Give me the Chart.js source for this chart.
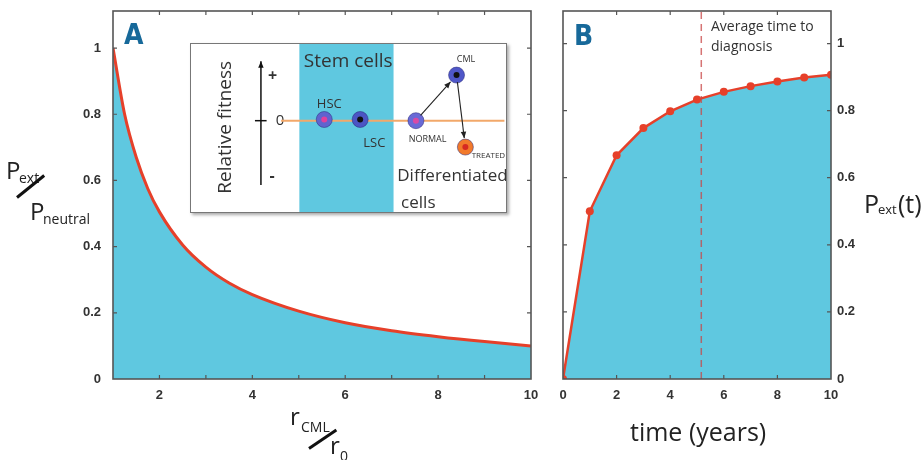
<!DOCTYPE html>
<html>
<head>
<meta charset="utf-8">
<script src="https://cdn.jsdelivr.net/npm/chart.js@4.4.0/dist/chart.umd.min.js"></script>
<style>
  html, body { margin: 0; padding: 0; background: #fff; }
  #wrap { position: relative; width: 923px; height: 460px; overflow: hidden; font-family: "Open Sans", sans-serif; color: #222; }
  canvas { position: absolute; }
  .t { position: absolute; line-height: 1; white-space: nowrap; }
  .slash { position: absolute; height: 3px; background: #111; transform-origin: 0 50%; }
  .panel { position: absolute; font-family: "Liberation Sans Narrow", "DejaVu Sans Condensed", sans-serif; font-weight: bold; font-size: 28px; color: #17699a; line-height: 1; }
  #inset { position: absolute; left: 190px; top: 43px; width: 315px; height: 168px; border: 1.5px solid #777; box-shadow: 2px 2px 3px #aaa; background: #fff; overflow: hidden; }
  #inset canvas { left: 0; top: 0; }
</style>
</head>
<body>
<div id="wrap">
  <canvas id="chartA" width="548" height="460" style="left:0;top:0;width:548px;height:460px"></canvas>
  <canvas id="chartB" width="383" height="460" style="left:540px;top:0;width:383px;height:460px"></canvas>
  <div id="inset"><canvas id="insetChart" width="315" height="168" style="width:315px;height:168px"></canvas></div>

  <div class="panel" style="left:124px;top:21px">A</div>
  <div class="panel" style="left:574px;top:22px">B</div>

  <!-- y title of panel A -->
  <div class="t" style="left:6px;top:158px;font-size:24px">P</div>
  <div class="t" style="left:19px;top:171px;font-size:14px">ext</div>
  <div class="slash" style="left:17px;top:196px;width:35px;transform:rotate(-39deg)"></div>
  <div class="t" style="left:30px;top:199px;font-size:24px">P</div>
  <div class="t" style="left:43px;top:212px;font-size:14px">neutral</div>

  <!-- x title of panel A -->
  <div class="t" style="left:290px;top:404px;font-size:24px">r</div>
  <div class="t" style="left:301px;top:420px;font-size:14px">CML</div>
  <div class="slash" style="left:309px;top:447px;width:33px;transform:rotate(-34deg)"></div>
  <div class="t" style="left:330px;top:433px;font-size:24px">r</div>
  <div class="t" style="left:340px;top:449px;font-size:14px">0</div>

  <!-- titles of panel B -->
  <div class="t" style="left:630px;top:419px;font-size:25px">time (years)</div>
  <div class="t" style="left:864px;top:191px;font-size:25px">P</div>
  <div class="t" style="left:878px;top:203px;font-size:13px">ext</div>
  <div class="t" style="left:898px;top:191px;font-size:25px">(t)</div>
  <div class="t" style="left:711px;top:19px;font-size:14px;color:#333">Average time to</div>
  <div class="t" style="left:711px;top:39px;font-size:14px;color:#333">diagnosis</div>
</div>

<script>
// Panel A: relative extinction probability vs r_CML / r_0
const rRatio = [1, 1.25, 1.5, 1.75, 2, 2.5, 3, 3.5, 4, 5, 6, 7, 8, 9, 10];
const pRatio = [1.0, 0.8, 0.67, 0.575, 0.505, 0.405, 0.338, 0.29, 0.255, 0.205, 0.17, 0.146, 0.128, 0.113, 0.1];

// Panel B: extinction probability over time
const years = [0, 1, 2, 3, 4, 5, 6, 7, 8, 9, 10];
const pExt = [0, 0.5, 0.667, 0.748, 0.798, 0.833, 0.856, 0.873, 0.887, 0.899, 0.907];
const diagnosisTime = 5.16;

// tick labels
const xTicksA = [2, 4, 6, 8, 10];
const xMarksA = [2, 3, 4, 5, 6, 7, 8, 9];
const xTicksB = [0, 2, 4, 6, 8, 10];
const xMarksB = [2, 4, 6, 8];
const yTicks = [0, 0.2, 0.4, 0.6, 0.8, 1];
const yMarks = [0.2, 0.4, 0.6, 0.8, 1];

// inset diagram: cells on a relative-fitness axis
const cellNames = ['HSC', 'LSC', 'NORMAL', 'CML', 'TREATED'];
const cellPos = [4.23, 5.37, 7.14, 8.43, 8.71];
const cellFitness = [0.02, 0.02, 0, 0.76, -0.44];
const cellOuter = ['#5f63cf', '#4b55c4', '#6a6ad6', '#4f57c8', '#f27a2c'];
const cellInner = ['#e0409c', '#111', '#d84aa6', '#111', '#d62a22'];
const stemBand = [3.44, 6.43];
const baseline = [2.86, 9.95];
const cellArrows = [[2, 3], [3, 4]];

const FILL = '#5fc8e0';
const RED = '#e6402a';
const tickFont = { family: '"Liberation Sans", Arial, sans-serif', size: 13, weight: 'bold' };

// box around the plot with inward tick marks
const framePlugin = {
  id: 'frame',
  afterDatasetsDraw(chart, args, opts) {
    const { ctx, chartArea: a, scales } = chart;
    ctx.save();
    ctx.strokeStyle = '#555';
    ctx.lineWidth = 1.2;
    ctx.beginPath();
    (opts.xMarks || []).forEach(v => {
      const px = scales.x.getPixelForValue(v);
      ctx.moveTo(px, a.bottom); ctx.lineTo(px, a.bottom - 4);
      ctx.moveTo(px, a.top); ctx.lineTo(px, a.top + 4);
    });
    (opts.yMarks || []).forEach(v => {
      const py = scales.y.getPixelForValue(v);
      ctx.moveTo(a.left, py); ctx.lineTo(a.left + 4, py);
      ctx.moveTo(a.right, py); ctx.lineTo(a.right - 4, py);
    });
    ctx.stroke();
    ctx.lineWidth = 1.6;
    ctx.strokeRect(a.left, a.top, a.right - a.left, a.bottom - a.top);
    ctx.restore();
  }
};

function axes(xMin, xMax, xTicks, yMax, yPos, yWidth) {
  return {
    x: {
      type: 'linear', min: xMin, max: xMax,
      grid: { display: false, drawTicks: false }, border: { display: false },
      afterBuildTicks: s => { s.ticks = xTicks.map(v => ({ value: v })); },
      afterFit: s => { s.height = 81; s.paddingLeft = 0; s.paddingRight = 0; },
      ticks: { font: tickFont, color: '#333', padding: 9, maxRotation: 0, callback: v => String(v) }
    },
    y: {
      type: 'linear', min: 0, max: yMax, position: yPos,
      grid: { display: false, drawTicks: false }, border: { display: false },
      afterBuildTicks: s => { s.ticks = yTicks.map(v => ({ value: v })); },
      afterFit: s => { s.width = yWidth; s.paddingTop = 0; s.paddingBottom = 0; },
      ticks: { font: tickFont, color: '#333', padding: yPos === 'left' ? 12 : 6, callback: v => String(v) }
    }
  };
}

Chart.defaults.animation = false;

new Chart(document.getElementById('chartA'), {
  type: 'line',
  data: {
    datasets: [{
      data: rRatio.map((r, i) => ({ x: r, y: pRatio[i] })),
      borderColor: RED, borderWidth: 3, pointRadius: 0,
      cubicInterpolationMode: 'monotone',
      fill: 'origin', backgroundColor: FILL
    }]
  },
  options: {
    responsive: false,
    layout: { autoPadding: false, padding: { left: 0, right: 17, top: 11, bottom: 0 } },
    scales: axes(1, 10, xTicksA, 1.112, 'left', 113),
    plugins: {
      legend: { display: false }, tooltip: { enabled: false },
      frame: { xMarks: xMarksA, yMarks: yMarks }
    }
  },
  plugins: [framePlugin]
});

new Chart(document.getElementById('chartB'), {
  type: 'line',
  data: {
    datasets: [{
      data: [{ x: diagnosisTime, y: 0 }, { x: diagnosisTime, y: 1.1 }],
      borderColor: 'rgba(200,70,70,0.75)', borderWidth: 1.5, borderDash: [7, 5],
      pointRadius: 0, fill: false, order: 0
    }, {
      data: years.map((t, i) => ({ x: t, y: pExt[i] })),
      borderColor: RED, borderWidth: 2.5, tension: 0,
      pointRadius: 4, pointBackgroundColor: RED, pointBorderWidth: 0,
      fill: 'origin', backgroundColor: FILL, order: 1
    }]
  },
  options: {
    responsive: false,
    layout: { autoPadding: false, padding: { left: 23, right: 0, top: 11, bottom: 0 } },
    scales: axes(0, 10, xTicksB, 1.097, 'right', 92),
    plugins: {
      legend: { display: false }, tooltip: { enabled: false },
      frame: { xMarks: xMarksB, yMarks: yMarks }
    }
  },
  plugins: [framePlugin]
});

// inset: drawn on a hidden-axis scatter chart
function arrow(ctx, x1, y1, x2, y2) {
  const ang = Math.atan2(y2 - y1, x2 - x1);
  ctx.beginPath();
  ctx.moveTo(x1, y1); ctx.lineTo(x2, y2);
  ctx.stroke();
  ctx.beginPath();
  ctx.moveTo(x2, y2);
  ctx.lineTo(x2 - 7 * Math.cos(ang - 0.4), y2 - 7 * Math.sin(ang - 0.4));
  ctx.lineTo(x2 - 7 * Math.cos(ang + 0.4), y2 - 7 * Math.sin(ang + 0.4));
  ctx.closePath();
  ctx.fill();
}

const insetPlugin = {
  id: 'insetDecor',
  beforeDatasetsDraw(chart) {
    const { ctx, scales: { x, y } } = chart;
    ctx.save();
    ctx.fillStyle = FILL;
    ctx.fillRect(x.getPixelForValue(stemBand[0]), 0, x.getPixelForValue(stemBand[1]) - x.getPixelForValue(stemBand[0]), chart.height);

    // fitness axis
    ctx.strokeStyle = '#111'; ctx.fillStyle = '#111'; ctx.lineWidth = 1.5;
    const ax = x.getPixelForValue(2.22);
    arrow(ctx, ax, y.getPixelForValue(-1.07), ax, y.getPixelForValue(0.99));
    ctx.beginPath();
    ctx.moveTo(x.getPixelForValue(2.03), y.getPixelForValue(0));
    ctx.lineTo(x.getPixelForValue(2.4), y.getPixelForValue(0));
    ctx.stroke();

    ctx.fillStyle = '#333';
    ctx.textAlign = 'center'; ctx.textBaseline = 'middle';
    ctx.font = 'bold 16px "Open Sans"';
    ctx.fillText('+', x.getPixelForValue(2.59), y.getPixelForValue(0.73));
    ctx.fillText('-', x.getPixelForValue(2.57), y.getPixelForValue(-0.93));
    ctx.font = '15px "Open Sans"';
    ctx.fillText('0', x.getPixelForValue(2.83), y.getPixelForValue(0));

    ctx.font = '19px "Open Sans"';
    ctx.save();
    ctx.translate(x.getPixelForValue(1.11), y.getPixelForValue(-0.11));
    ctx.rotate(-Math.PI / 2);
    ctx.fillText('Relative fitness', 0, 0);
    ctx.restore();

    ctx.fillText('Stem cells', x.getPixelForValue(4.99), y.getPixelForValue(0.98));
    ctx.font = '17px "Open Sans"';
    ctx.fillText('Differentiated', x.getPixelForValue(8.3), y.getPixelForValue(-0.93));
    ctx.textAlign = 'left';
    ctx.fillText('cells', x.getPixelForValue(6.67), y.getPixelForValue(-1.37));
    ctx.restore();
  },
  afterDatasetsDraw(chart) {
    const { ctx, scales: { x, y } } = chart;
    ctx.save();
    ctx.strokeStyle = '#222'; ctx.fillStyle = '#222'; ctx.lineWidth = 1.1;
    cellArrows.forEach(([a, b]) => {
      let x1 = x.getPixelForValue(cellPos[a]), y1 = y.getPixelForValue(cellFitness[a]);
      let x2 = x.getPixelForValue(cellPos[b]), y2 = y.getPixelForValue(cellFitness[b]);
      const d = Math.hypot(x2 - x1, y2 - y1);
      const ux = (x2 - x1) / d, uy = (y2 - y1) / d;
      arrow(ctx, x1 + ux * 7, y1 + uy * 7, x2 - ux * 9, y2 - uy * 9);
    });
    ctx.fillStyle = '#333';
    ctx.textBaseline = 'middle';
    const labelDx = [0.16, 0.45, 0.37, 0.3, 0.2];
    const labelDy = [0.26, -0.4, -0.32, 0.26, -0.15];
    cellNames.forEach((n, i) => {
      ctx.font = i < 2 ? '13px "Open Sans"' : (i === 4 ? '8px "Open Sans"' : '9px "Open Sans"');
      ctx.textAlign = i === 4 ? 'left' : 'center';
      ctx.fillText(n, x.getPixelForValue(cellPos[i] + labelDx[i]), y.getPixelForValue(cellFitness[i] + labelDy[i]));
    });
    ctx.restore();
  }
};

new Chart(document.getElementById('insetChart'), {
  type: 'scatter',
  data: {
    datasets: [{
      data: cellPos.map((p, i) => ({ x: p, y: cellFitness[i] })),
      pointRadius: 3, pointBackgroundColor: cellInner, pointBorderWidth: 0
    }, {
      data: cellPos.map((p, i) => ({ x: p, y: cellFitness[i] })),
      pointRadius: 8, pointBackgroundColor: cellOuter, pointBorderColor: 'rgba(40,40,120,0.5)', pointBorderWidth: 1
    }, {
      data: baseline.map(v => ({ x: v, y: 0 })),
      showLine: true, borderColor: '#f2a86a', borderWidth: 2, pointRadius: 0
    }]
  },
  options: {
    responsive: false,
    layout: { autoPadding: false, padding: 0 },
    scales: {
      x: { type: 'linear', min: 0, max: 10, display: false },
      y: { type: 'linear', min: -1.522, max: 1.278, display: false }
    },
    plugins: { legend: { display: false }, tooltip: { enabled: false } }
  },
  plugins: [insetPlugin]
});
</script>
</body>
</html>
